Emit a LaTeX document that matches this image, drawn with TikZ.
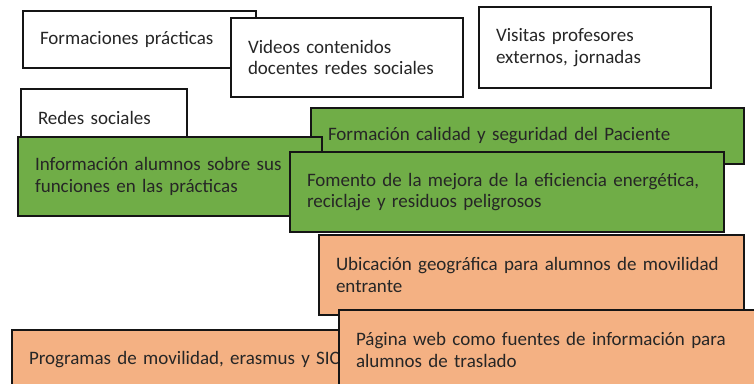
\documentclass[tikz,border=0pt]{standalone}
\usepackage{fontspec}
\setmainfont{Carlito}
\usepackage{tikz}
\definecolor{verde}{HTML}{70AD47}
\definecolor{naranja}{HTML}{F4B183}
\definecolor{borde}{HTML}{151515}
\definecolor{texto}{HTML}{262626}

\begin{document}
\begin{tikzpicture}[x=1pt, y=-1pt]
        \tikzstyle{caja} = [rectangle, draw=borde, line width=1.6pt, fill=white, text=texto, inner xsep=17pt, inner ysep=0pt, align=left, font=\fontsize{19}{21.7}\selectfont]
        \tikzstyle{verde} = [caja, fill=verde]
        \tikzstyle{naranja} = [caja, fill=naranja]
        \clip (0, 0) rectangle (754, 383);
		\node [caja, text width=199pt, minimum height=57pt] (1) at (139.5, 39.5) {Formaciones prácticas};
		\node [caja, text width=198pt, minimum height=79pt] (2) at (347, 57.5) {Videos contenidos\\docentes redes sociales};
		\node [caja, text width=198pt, minimum height=81pt] (3) at (595, 47.5) {Visitas profesores\\externos, jornadas};
		\node [caja, text width=132pt, minimum height=58pt] (4) at (104, 118) {Redes sociales};
		\node [verde, text width=399pt, minimum height=56pt] (5) at (527.5, 136) {Formación calidad y seguridad del Paciente};
		\node [verde, text width=270pt, minimum height=79pt] (6) at (170, 176.5) {Información alumnos sobre sus\\funciones en las prácticas};
		\node [verde, text width=400pt, minimum height=80pt] (7) at (507, 192) {Fomento de la mejora de la eficiencia energética,\\reciclaje y residuos peligrosos};
		\node [naranja, text width=391pt, minimum height=80pt] (8) at (531.5, 275) {Ubicación geográfica para alumnos de movilidad\\entrante};
		\node [naranja, text width=354pt, minimum height=60pt] (9) at (206, 360) {Programas de movilidad, erasmus y SICUE};
		\node [naranja, text width=417pt, minimum height=80pt] (10) at (564.5, 350) {Página web como fuentes de información para\\alumnos de traslado};
    \end{tikzpicture}
\end{document}
